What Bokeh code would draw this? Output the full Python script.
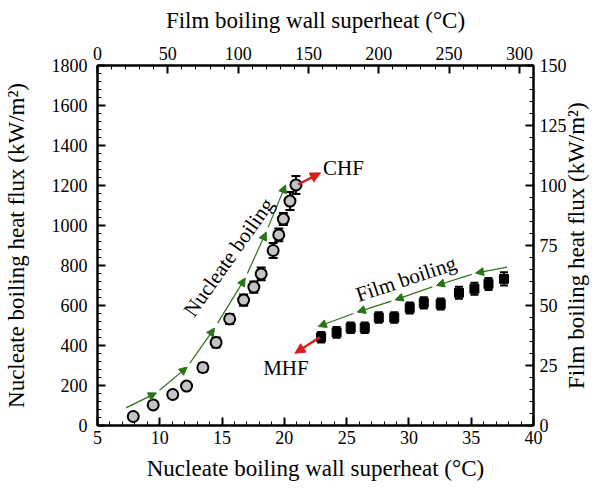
import math
from bokeh.plotting import figure
from bokeh.models import (Range1d, LinearAxis, SingleIntervalTicker, FixedTicker, ColumnDataSource,
                          Whisker, TeeHead, Arrow, NormalHead, Label, CustomJSTickFormatter)
from bokeh.embed import file_html
from bokeh.resources import INLINE

# Nucleate boiling data (bottom x axis, left y axis)
nb_superheat = [7.87, 9.47, 11.04, 12.15, 13.46, 14.52, 15.61, 16.73, 17.55, 18.14, 19.1, 19.55, 19.92, 20.45, 20.93]
nb_flux = [45, 103, 155, 197, 290, 415, 533, 627, 692, 758, 875, 953, 1032, 1122, 1203]
nb_err = [15, 15, 15, 18, 22, 25, 25, 28, 28, 32, 38, 32, 30, 45, 45]

# Film boiling data (top x axis, right y axis)
fb_superheat = [159, 170, 180, 190, 200, 211, 222, 232, 244, 257, 268, 278, 289]
fb_flux = [36.8, 38.8, 40.7, 40.7, 45.0, 45.0, 49.0, 51.1, 50.6, 55.3, 57.0, 59.0, 61.1]
fb_err = [2.2, 2.2, 2.2, 2.2, 2.2, 2.2, 2.3, 2.3, 2.3, 2.5, 2.5, 2.5, 2.8]

# Annotation paths (in bottom/left axis units)
nb_path_x = [7.29, 9.73, 12.2, 14.39, 16.86, 18.54, 20.1]
nb_path_y = [88, 163, 292, 487, 737, 967, 1203]
fb_path_x = [37.88, 35.35, 32.21, 28.89, 25.85, 22.72]
fb_path_y = [792, 762, 700, 628, 567, 495]
chf_arrow = [(21.1, 1205), (22.9, 1263)]
mhf_arrow = [(22.85, 441), (20.85, 361)]

RIGHT_TITLE = "Film boiling heat flux (kW/m²)"

FONT = "Liberation Serif"
GREEN = "#2a7418"
RED = "#d41f1f"

p = figure(width=604, height=489, x_range=Range1d(5, 40), y_range=Range1d(0, 1800),
           output_backend="svg", toolbar_location=None,
           min_border_left=95, min_border_right=70, min_border_top=65, min_border_bottom=64,
           x_axis_label="Nucleate boiling wall superheat (°C)",
           y_axis_label="Nucleate boiling heat flux (kW/m²)")
p.extra_x_ranges = {"film": Range1d(0, 310)}
p.extra_y_ranges = {"film": Range1d(0, 150)}
p.xgrid.visible = False
p.ygrid.visible = False
p.outline_line_color = "black"
p.outline_line_width = 2
p.background_fill_color = "white"
p.border_fill_color = "white"

bottom = p.below[0]
left = p.left[0]
top = LinearAxis(x_range_name="film", axis_label="Film boiling wall superheat (°C)")
right = LinearAxis(y_range_name="film")
p.add_layout(top, "above")
p.add_layout(right, "right")

bottom.ticker = SingleIntervalTicker(interval=5, num_minor_ticks=5)
left.ticker = SingleIntervalTicker(interval=200, num_minor_ticks=5)
top.ticker = SingleIntervalTicker(interval=50, num_minor_ticks=5)
right.ticker = SingleIntervalTicker(interval=25, num_minor_ticks=5)

for ax in [bottom, left, top, right]:
    ax.axis_line_width = 2
    ax.axis_line_color = "black"
    ax.major_tick_in = 8
    ax.major_tick_out = 0
    ax.minor_tick_in = 4
    ax.minor_tick_out = 0
    ax.major_tick_line_width = 2
    ax.minor_tick_line_width = 1
    ax.major_tick_line_color = "black"
    ax.minor_tick_line_color = "black"
    ax.major_label_text_font = FONT
    ax.major_label_text_font_size = "18px"
    ax.major_label_text_color = "black"
    ax.axis_label_text_font = FONT
    ax.axis_label_text_font_size = "23px"
    ax.axis_label_text_font_style = "normal"
    ax.axis_label_text_color = "black"

bottom.major_label_standoff = 5
bottom.axis_label_standoff = 9
left.major_label_standoff = 10
left.axis_label_standoff = 20
top.major_label_standoff = 6
top.axis_label_standoff = 11
right.major_label_standoff = 6

# Right-hand title, reading bottom-to-top, drawn as the single label of a bare axis
title_axis = LinearAxis(y_range_name="film", ticker=FixedTicker(ticks=[15.2], minor_ticks=[]),
                        formatter=CustomJSTickFormatter(code="return %r" % RIGHT_TITLE),
                        major_label_orientation=math.pi / 2)
title_axis.axis_line_color = None
title_axis.major_tick_line_color = None
title_axis.minor_tick_line_color = None
title_axis.major_tick_in = 0
title_axis.major_tick_out = 0
title_axis.minor_tick_in = 0
title_axis.minor_tick_out = 0
title_axis.major_label_standoff = 7
title_axis.major_label_text_font = FONT
title_axis.major_label_text_font_size = "23px"
title_axis.major_label_text_color = "black"
p.add_layout(title_axis, "right")

# Nucleate boiling points
nb_src = ColumnDataSource(dict(x=nb_superheat, y=nb_flux,
                               lo=[v - e for v, e in zip(nb_flux, nb_err)],
                               hi=[v + e for v, e in zip(nb_flux, nb_err)]))
p.add_layout(Whisker(source=nb_src, base="x", lower="lo", upper="hi", line_width=2,
                     line_color="black",
                     upper_head=TeeHead(size=9, line_width=2, line_color="black"),
                     lower_head=TeeHead(size=9, line_width=2, line_color="black")))
p.scatter("x", "y", source=nb_src, marker="circle", size=11, fill_color="#c4c4c4",
          line_color="black", line_width=2)

# Film boiling points
fb_src = ColumnDataSource(dict(x=fb_superheat, y=fb_flux,
                               lo=[v - e for v, e in zip(fb_flux, fb_err)],
                               hi=[v + e for v, e in zip(fb_flux, fb_err)]))
p.add_layout(Whisker(source=fb_src, base="x", lower="lo", upper="hi", line_width=2,
                     line_color="black", x_range_name="film", y_range_name="film",
                     upper_head=TeeHead(size=8, line_width=2, line_color="black"),
                     lower_head=TeeHead(size=8, line_width=2, line_color="black")))
p.scatter("x", "y", source=fb_src, marker="square", size=9, fill_color="black",
          line_color="black", x_range_name="film", y_range_name="film")

# Green trend arrows
def add_path(xs, ys):
    for i in range(len(xs) - 1):
        x0 = xs[i] + 0.1 * (xs[i + 1] - xs[i]) if i > 0 else xs[i]
        y0 = ys[i] + 0.1 * (ys[i + 1] - ys[i]) if i > 0 else ys[i]
        p.add_layout(Arrow(x_start=x0, y_start=y0, x_end=xs[i + 1], y_end=ys[i + 1],
                           line_color=GREEN, line_width=1.2,
                           end=NormalHead(size=8, fill_color=GREEN, line_color=GREEN, line_width=1)))

add_path(nb_path_x, nb_path_y)
add_path(fb_path_x, fb_path_y)

for (a, b) in [chf_arrow, mhf_arrow]:
    p.add_layout(Arrow(x_start=a[0], y_start=a[1], x_end=b[0], y_end=b[1],
                       line_color=RED, line_width=2.5,
                       end=NormalHead(size=10, fill_color=RED, line_color=RED, line_width=1)))

def add_label(x, y, text, angle=0.0, align="left"):
    p.add_layout(Label(x=x, y=y, text=text, angle=angle, angle_units="deg",
                       text_align=align, text_baseline="middle",
                       text_font=FONT, text_font_size="21px", text_color="black"))

add_label(23.1, 1290, "CHF")
add_label(18.3, 290, "MHF")
add_label(15.53, 841, "Nucleate boiling", 54.6, "center")
add_label(29.77, 733, "Film boiling", 18.4, "center")

open("out.html", "w").write(file_html(p, INLINE))
